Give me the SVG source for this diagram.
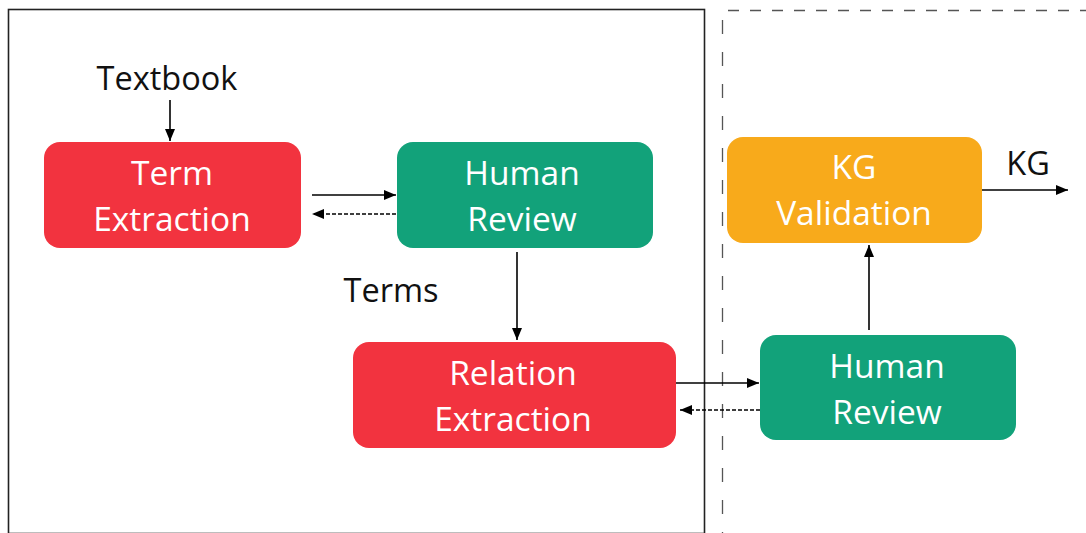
<svg xmlns="http://www.w3.org/2000/svg" width="1086" height="533" viewBox="0 0 1086 533">
<defs>
<marker id="ah" viewBox="0 0 12 10" refX="12" refY="5" markerWidth="12" markerHeight="10" markerUnits="userSpaceOnUse" orient="auto">
<path d="M0,0 L12,5 L0,10 z" fill="#000"/>
</marker>
<style>
.node{stroke:none}
.red{fill:#F2333F}
.green{fill:#12A27A}
.orange{fill:#F8AA1B}
.nt{font-family:"Open Sans","Noto Sans",sans-serif;font-size:33.5px;fill:#fff;text-anchor:middle}
.lbl{font-family:"Open Sans","Noto Sans",sans-serif;font-size:32.5px;fill:#111;text-anchor:middle}
.c{stroke:#000;stroke-width:1.6;fill:none;marker-end:url(#ah)}
.d{stroke-dasharray:4,2}
</style>
</defs>
<rect width="1086" height="533" fill="#fff"/>
<g id="frames">
<rect x="8.5" y="9.5" width="696" height="524" fill="none" stroke="#222" stroke-width="1.6"/>
<path d="M722.5,20 V533" fill="none" stroke="#555" stroke-width="1.3" stroke-dasharray="14,18"/>
<path d="M728,10.5 H1086" fill="none" stroke="#555" stroke-width="1.3" stroke-dasharray="11,11"/>
</g>
<g id="connectors">
<line class="c" x1="170" y1="100" x2="170" y2="141"/>
<line class="c" x1="312" y1="195" x2="396" y2="195"/>
<line class="c d" x1="396" y1="214" x2="312" y2="214"/>
<line class="c" x1="517" y1="252" x2="517" y2="340"/>
<line class="c" x1="676" y1="383" x2="759" y2="383"/>
<line class="c d" x1="760" y1="410" x2="680" y2="410"/>
<line class="c" x1="869" y1="330" x2="869" y2="245"/>
<line class="c" x1="982" y1="190" x2="1068" y2="190"/>
</g>
<g id="labels">
<text class="lbl" x="167" y="90">Textbook</text>
<text class="lbl" x="391" y="302">Terms</text>
<text class="lbl" x="1028" y="175">KG</text>
</g>
<g id="term-extraction">
<rect class="node red" x="44" y="142" width="257" height="106" rx="16"/>
<text class="nt" x="172" y="185">Term</text>
<text class="nt" x="172" y="231">Extraction</text>
</g>
<g id="human-review-1">
<rect class="node green" x="397" y="142" width="256" height="106" rx="16"/>
<text class="nt" x="522" y="185">Human</text>
<text class="nt" x="522" y="231">Review</text>
</g>
<g id="relation-extraction">
<rect class="node red" x="353" y="342" width="323" height="106" rx="16"/>
<text class="nt" x="513" y="385">Relation</text>
<text class="nt" x="513" y="431">Extraction</text>
</g>
<g id="human-review-2">
<rect class="node green" x="760" y="335" width="256" height="105" rx="16"/>
<text class="nt" x="887" y="378">Human</text>
<text class="nt" x="887" y="424">Review</text>
</g>
<g id="kg-validation">
<rect class="node orange" x="727" y="137" width="255" height="106" rx="16"/>
<text class="nt" x="854" y="179">KG</text>
<text class="nt" x="854" y="225">Validation</text>
</g>
</svg>
